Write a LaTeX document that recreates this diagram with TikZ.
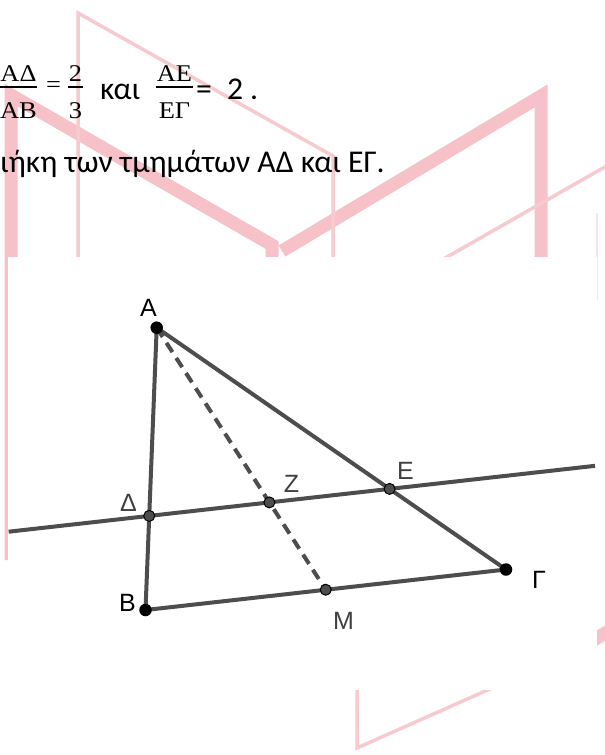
\documentclass[tikz,border=0pt]{standalone}
\usepackage{fontspec}
\setmainfont{Carlito}
\newfontfamily\serifgr{Liberation Serif}
\newfontfamily\labelfont{Liberation Sans}
\usetikzlibrary{calc}
\definecolor{wmthick}{RGB}{246,193,200}
\definecolor{wmthin}{RGB}{247,202,208}
\definecolor{geo}{RGB}{77,77,77}
\definecolor{lblgray}{RGB}{64,64,64}
\begin{document}
\begin{tikzpicture}[x=1pt,y=-1pt,
  thickband/.style={draw=wmthick, line width=13pt, line join=miter},
  thinband/.style={draw=wmthin, line width=3.5pt, line join=miter},
  seg/.style={draw=geo, line width=4pt},
  dashseg/.style={seg, dash pattern=on 11pt off 7pt},
  freept/.style={circle, fill=black, inner sep=0pt, minimum size=12.5pt},
  deppt/.style={circle, fill=geo, draw=black, line width=1pt, inner sep=0pt, minimum size=11pt},
  lbl/.style={font=\labelfont\fontsize{25}{30}\selectfont, inner sep=0pt},
  sertxt/.style={font=\serifgr\fontsize{24}{28}\selectfont, inner sep=0pt, anchor=base, xscale=1.1},
  sanstxt/.style={font=\fontsize{31.7}{38}\selectfont, inner sep=0pt, anchor=base west},
  fracbar/.style={draw=black, line width=2.6pt}
]
\useasboundingbox (0,0) rectangle (605,755);
\fill[white] (0,0) rectangle (605,755);
% ---- watermark ----
\draw[thickband] (11,560) -- (11,95) -- (272,245) -- (272,320);
\draw[thickband] (282,251) -- (541,96) -- (541,320);
\draw[thickband] (592,641) -- (615,627);
\draw[thinband] (78,300) -- (78,13) -- (333,156) -- (333,300);
\draw[thinband] (440,261) -- (610,164);
\draw[draw=wmthin!50, line width=2pt] (597,213) -- (597,300);
\draw[thinband] (357,680) -- (357,748) -- (510,680);
% white panel
\fill[white] (8,257) rectangle (597,690);
% ---- text ----
\node[sertxt] (n1) at (18.5,81) {ΑΔ};
\node[sertxt] (d1) at (18.5,118) {ΑΒ};
\draw[fracbar] (0,87) -- (37,87);
\node[sertxt] (eq1) at (53.5,92) {=};
\node[sertxt] (n2) at (75.5,81) {2};
\node[sertxt] (d2) at (75.5,118) {3};
\draw[fracbar] (68,87) -- (83,87);
\node[sanstxt] (kai) at (100,99) {και};
\node[sertxt] (n3) at (174.5,81) {ΑΕ};
\node[sertxt] (d3) at (174.5,118) {ΕΓ};
\draw[fracbar] (156,87) -- (193,87);
\node[sanstxt] (eq2) at (196,99) {=};
\node[sanstxt] (two) at (227,99) {2};
\node[sanstxt] (dot) at (250,99) {.};
\node[sanstxt] (line2) at (0,172) {ιήκη των τμημάτων ΑΔ και ΕΓ.};
% ---- figure ----
\coordinate (A) at (156.7,327.7);
\coordinate (B) at (145.5,610);
\coordinate (G) at (506,569.5);
\coordinate (D) at ($(A)!2/3!(B)$);
\coordinate (E) at ($(A)!2/3!(G)$);
\coordinate (M) at ($(B)!0.5!(G)$);
\coordinate (Z) at ($(D)!0.5!(E)$);
\coordinate (L1) at ($(D)!-0.585!(E)$);
\coordinate (L2) at ($(D)!1.855!(E)$);
\draw[seg] (L1) -- (L2);
\draw[seg] (A) -- (B);
\draw[seg] (A) -- (G);
\draw[seg] (B) -- (G);
\draw[dashseg] (A) -- (M);
\node[deppt] (pD) at (D) {};
\node[deppt] (pE) at (E) {};
\node[deppt] (pZ) at (Z) {};
\node[deppt] (pM) at (M) {};
\node[freept] (pA) at (A) {};
\node[freept] (pB) at (B) {};
\node[freept] (pG) at (G) {};
\node[lbl, text=black] (lA) at (148.5,307.5) {A};
\node[lbl, text=black] (lB) at (127.5,603) {B};
\node[lbl, text=black] (lG) at (539,580) {Γ};
\node[lbl, text=lblgray] (lD) at (128.5,503) {Δ};
\node[lbl, text=lblgray] (lZ) at (291.5,484) {Z};
\node[lbl, text=lblgray] (lE) at (405.5,471) {E};
\node[lbl, text=lblgray] (lM) at (343.5,621) {M};
\end{tikzpicture}
\end{document}
